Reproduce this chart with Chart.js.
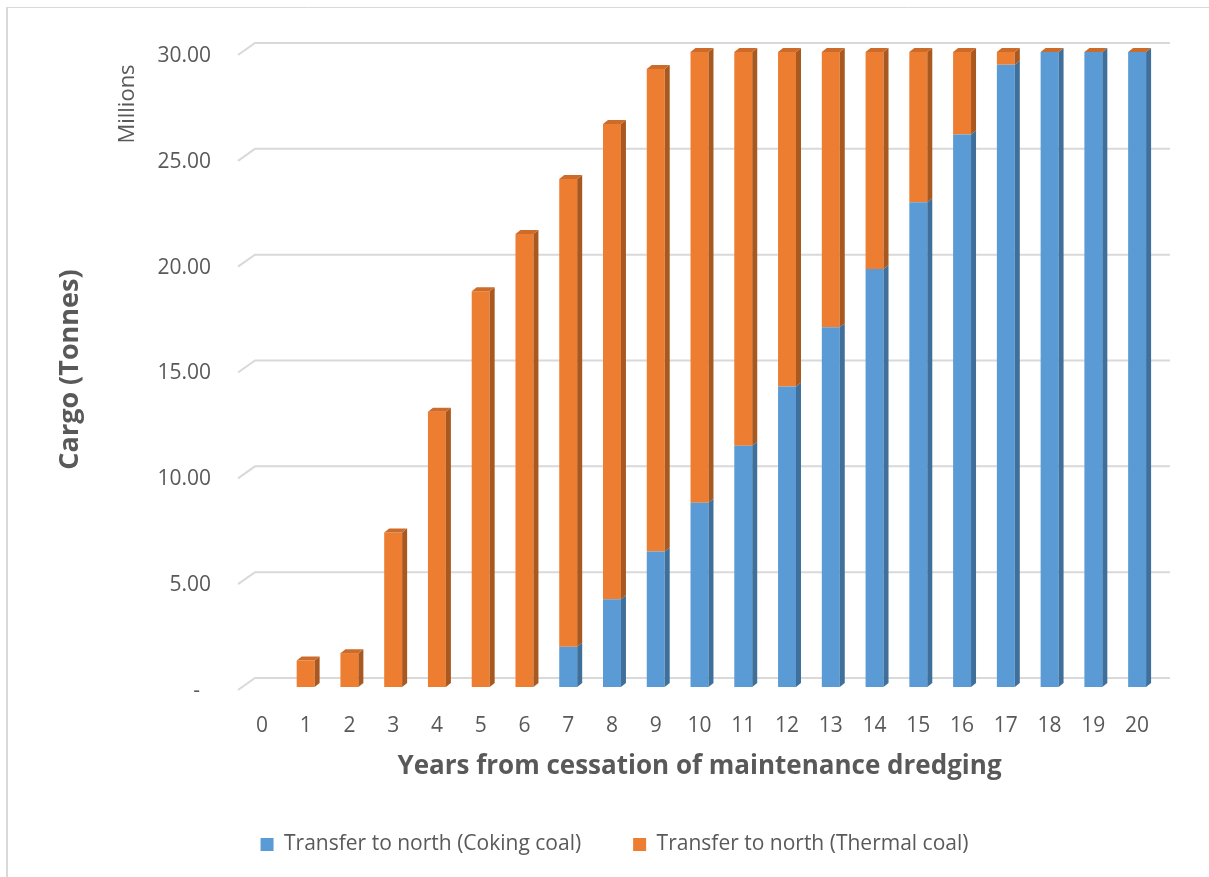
<!DOCTYPE html>
<html>
<head>
<meta charset="utf-8">
<script src="https://cdn.jsdelivr.net/npm/chart.js@4/dist/chart.umd.min.js"></script>
<style>
  html, body { margin: 0; padding: 0; background: #ffffff; }
  #wrap { position: relative; width: 1209px; height: 877px; }
</style>
</head>
<body>
<div id="wrap"><canvas id="cargo" width="1209" height="877"></canvas></div>
<script>
// Years after maintenance dredging stops
const years = ['0','1','2','3','4','5','6','7','8','9','10','11','12','13','14','15','16','17','18','19','20'];

// Cargo transferred north, millions of tonnes
const cokingCoal  = [0, 0, 0, 0, 0, 0, 0, 1.9, 4.15, 6.4, 8.7, 11.4, 14.2, 17.0, 19.75, 22.9, 26.1, 29.4, 30, 30, 30];
const thermalCoal = [0, 1.25, 1.6, 7.3, 13.0, 18.7, 21.4, 22.1, 22.45, 22.8, 21.3, 18.6, 15.8, 13.0, 10.25, 7.1, 3.9, 0.6, 0, 0, 0];

// Value axis ticks
const yTickValues = [0, 5, 10, 15, 20, 25, 30];
const yTickLabels = ['-  ', '5.00', '10.00', '15.00', '20.00', '25.00', '30.00'];

const TEXT = '#595959';
const FONT = '"Open Sans", "DejaVu Sans", sans-serif';
const GRID = '#d9d9d9';

// Column colours: front face, side face, top face
const faces = [
  { front: '#5b9bd5', side: '#3f6f9b', top: '#4a86bd' },
  { front: '#ed7d31', side: '#a9581f', top: '#cd6c2a' }
];
const DEPTH_X = 5, DEPTH_Y = 4;

// White page with a thin frame along the top and left
const framePlugin = {
  id: 'frame',
  beforeDraw(chart) {
    const { ctx, width, height } = chart;
    ctx.save();
    ctx.fillStyle = '#ffffff';
    ctx.fillRect(0, 0, width, height);
    ctx.strokeStyle = GRID;
    ctx.lineWidth = 1;
    ctx.beginPath();
    ctx.moveTo(7, 7.5); ctx.lineTo(width, 7.5);
    ctx.stroke();
    ctx.lineWidth = 2;
    ctx.beginPath();
    ctx.moveTo(7, 7); ctx.lineTo(7, height);
    ctx.stroke();
    ctx.restore();
  }
};

// Gridlines on the back wall with a short slanted run across the floor edge
const wallGridPlugin = {
  id: 'wallGrid',
  beforeDatasetsDraw(chart) {
    const { ctx, chartArea } = chart;
    const y = chart.scales.y;
    ctx.save();
    ctx.strokeStyle = GRID;
    ctx.lineWidth = 2;
    yTickValues.forEach(v => {
      const py = y.getPixelForValue(v);
      ctx.beginPath();
      ctx.moveTo(chartArea.left - 2, py + 3);
      ctx.lineTo(chartArea.left + 15, py - 9);
      ctx.lineTo(chartArea.right + 11, py - 9);
      ctx.stroke();
    });
    ctx.restore();
  }
};

// Side and top faces that give the columns their depth
const depthPlugin = {
  id: 'columnDepth',
  afterDatasetsDraw(chart) {
    const { ctx } = chart;
    ctx.save();
    [0, 1].forEach(di => {
      const meta = chart.getDatasetMeta(di);
      meta.data.forEach((bar, i) => {
        const p = bar.getProps(['x', 'y', 'base', 'width'], true);
        const left = p.x - p.width / 2, right = p.x + p.width / 2;
        const top = Math.min(p.y, p.base), bottom = Math.max(p.y, p.base);
        if (bottom - top > 0.3) {
          ctx.fillStyle = faces[di].side;
          ctx.beginPath();
          ctx.moveTo(right, top);
          ctx.lineTo(right + DEPTH_X, top - DEPTH_Y);
          ctx.lineTo(right + DEPTH_X, bottom - DEPTH_Y);
          ctx.lineTo(right, bottom);
          ctx.closePath();
          ctx.fill();
        }
        if (di === 1 && cokingCoal[i] + thermalCoal[i] > 0) {
          ctx.fillStyle = faces[di].top;
          ctx.beginPath();
          ctx.moveTo(left, top);
          ctx.lineTo(right, top);
          ctx.lineTo(right + DEPTH_X, top - DEPTH_Y);
          ctx.lineTo(left + DEPTH_X, top - DEPTH_Y);
          ctx.closePath();
          ctx.fill();
        }
      });
    });
    ctx.restore();
  }
};

// Unit note beside the value axis
const unitPlugin = {
  id: 'unitNote',
  afterDraw(chart) {
    const { ctx, chartArea } = chart;
    ctx.save();
    ctx.translate(chartArea.left - 112, chartArea.top + 52);
    ctx.rotate(-Math.PI / 2);
    ctx.font = '22px ' + FONT;
    ctx.fillStyle = TEXT;
    ctx.textAlign = 'center';
    ctx.textBaseline = 'middle';
    ctx.fillText('Millions', 0, 0);
    ctx.restore();
  }
};

new Chart(document.getElementById('cargo'), {
  type: 'bar',
  data: {
    labels: years,
    datasets: [
      {
        label: 'Transfer to north (Coking coal)',
        data: cokingCoal,
        backgroundColor: faces[0].front,
        borderWidth: 0,
        categoryPercentage: 0.41,
        barPercentage: 1
      },
      {
        label: 'Transfer to north (Thermal coal)',
        data: thermalCoal,
        backgroundColor: faces[1].front,
        borderWidth: 0,
        categoryPercentage: 0.41,
        barPercentage: 1
      }
    ]
  },
  options: {
    responsive: false,
    animation: false,
    devicePixelRatio: 1,
    layout: { padding: { top: 52, left: 70, right: 50, bottom: 12 } },
    plugins: {
      tooltip: { enabled: false },
      legend: {
        position: 'bottom',
        labels: {
          boxWidth: 13,
          boxHeight: 13,
          padding: 52,
          color: TEXT,
          font: { family: FONT, size: 21 }
        }
      }
    },
    scales: {
      x: {
        stacked: true,
        grid: { display: false },
        border: { display: false },
        ticks: { color: TEXT, font: { family: FONT, size: 21 }, padding: 18, maxRotation: 0 },
        title: {
          display: true,
          text: 'Years from cessation of maintenance dredging',
          color: TEXT,
          font: { family: FONT, size: 26, weight: 'bold' },
          padding: { top: 0, bottom: 0 }
        },
        afterFit(scale) { scale.height = 95; }
      },
      y: {
        stacked: true,
        min: 0,
        max: 30,
        grid: { display: false },
        border: { display: false },
        afterBuildTicks(scale) { scale.ticks = yTickValues.map(v => ({ value: v })); },
        ticks: {
          color: TEXT,
          font: { family: FONT, size: 21 },
          padding: 21,
          labelOffset: 4,
          callback: (value, index) => yTickLabels[index]
        },
        title: {
          display: true,
          text: 'Cargo (Tonnes)',
          color: TEXT,
          font: { family: FONT, size: 27, weight: 'bold' },
          padding: { top: -16, bottom: 0 }
        },
        afterFit(scale) { scale.width = 170; }
      }
    }
  },
  plugins: [framePlugin, wallGridPlugin, depthPlugin, unitPlugin]
});
</script>
</body>
</html>
